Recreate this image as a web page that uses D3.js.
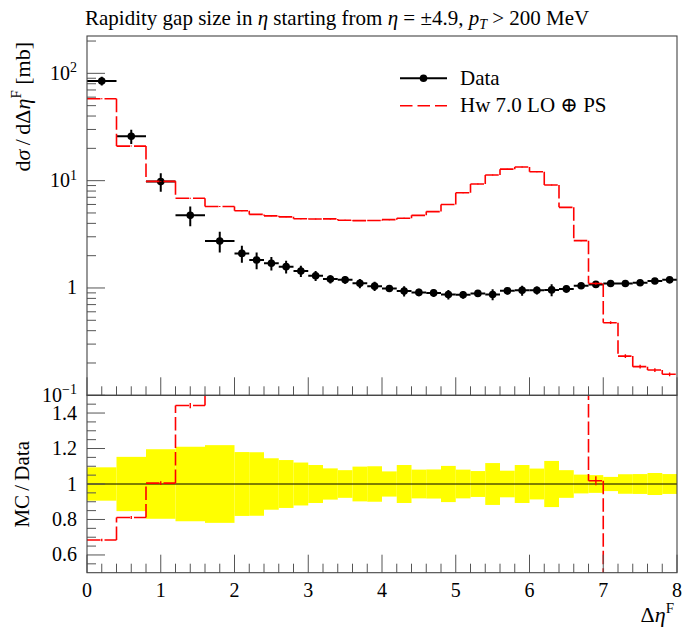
<!DOCTYPE html>
<html><head><meta charset="utf-8">
<script src="https://cdn.jsdelivr.net/npm/d3@7"></script>
<style>
body{margin:0;background:#fff}
svg{display:block}
text{font-family:"Liberation Serif","DejaVu Serif",serif;fill:#000}
</style>
</head><body>
<svg id="c" width="700" height="632"></svg>
<script>
// ---- data ----
const binEdges = [0,0.4,0.8,1.2,1.6,2.0,2.2,2.4,2.6,2.8,3.0,3.2,3.4,3.6,3.8,4.0,4.2,4.4,4.6,4.8,5.0,5.2,5.4,5.6,5.8,6.0,6.2,6.4,6.6,6.8,7.0,7.2,7.4,7.6,7.8,8.0];
const dataValues = [84.8,25.9,9.8,4.75,2.74,2.10,1.82,1.70,1.58,1.44,1.30,1.21,1.19,1.105,1.04,0.99,0.935,0.91,0.90,0.87,0.865,0.89,0.87,0.94,0.95,0.95,0.96,0.98,1.05,1.08,1.10,1.10,1.12,1.16,1.19];
const dataRelErr = [0.094,0.153,0.196,0.21,0.219,0.18,0.179,0.145,0.135,0.121,0.107,0.088,0.078,0.098,0.10,0.071,0.107,0.081,0.082,0.102,0.081,0.073,0.118,0.075,0.107,0.087,0.13,0.078,0.053,0.05,0.04,0.055,0.056,0.062,0.056];
const mcValues = [58,21.0,9.85,6.85,5.75,5.25,4.85,4.70,4.60,4.42,4.39,4.40,4.28,4.24,4.26,4.33,4.47,4.75,5.15,6.0,7.72,9.3,11.3,12.8,13.4,12.1,9.1,5.64,2.76,1.10,0.475,0.232,0.185,0.172,0.157];
const mcRelErr = [0.01,0.01,0.01,0.01,0.01,0.01,0.01,0.01,0.01,0.01,0.01,0.01,0.01,0.01,0.01,0.01,0.01,0.01,0.01,0.01,0.01,0.01,0.01,0.01,0.01,0.01,0.01,0.01,0.015,0.025,0.03,0.04,0.04,0.04,0.04];
const xTickValues = [0,1,2,3,4,5,6,7,8];
const mainDecades = [0.1,1,10,100];
const mainDecadeExp = ["−1","","1","2"];
const ratioTickValues = [0.6,0.8,1,1.2,1.4];
const ratioTickLabels = ["0.6","0.8","1","1.2","1.4"];
const seriesNames = ["Data","Hw 7.0 LO ⊕ PS"];

// ---- layout ----
const L = 87, R = 677, T = 36, MB = 395.3, RB = 572.7;
const svg = d3.select("#c");
const x = d3.scaleLinear().domain([0,8]).range([L,R]);
const y = d3.scaleLog().domain([0.1,222.8]).range([MB,T]);
const yr = d3.scaleLinear().domain([0.5,1.5]).range([RB,MB]);
const nb = dataValues.length;
const bins = d3.range(nb).map(i => ({lo:binEdges[i], hi:binEdges[i+1], c:(binEdges[i]+binEdges[i+1])/2,
  d:dataValues[i], de:dataValues[i]*dataRelErr[i], m:mcValues[i], me:mcValues[i]*mcRelErr[i], rel:dataRelErr[i]}));

const defs = svg.append("defs");
defs.append("clipPath").attr("id","cm").append("rect").attr("x",L).attr("y",T).attr("width",R-L).attr("height",MB-T);
defs.append("clipPath").attr("id","cr").append("rect").attr("x",L).attr("y",MB).attr("width",R-L).attr("height",RB-MB);

const RED = "#ff0000";
const DASH = "13.5,4";

// histogram as separate horizontal / vertical pieces (dash restarts per piece)
function stepSegments(vals){
  const segs = [];
  vals.forEach((v,i) => {
    if (i>0) segs.push({x1:binEdges[i], x2:binEdges[i], v1:vals[i-1], v2:v});
    segs.push({x1:binEdges[i], x2:binEdges[i+1], v1:v, v2:v});
  });
  return segs;
}
function drawStep(g, vals, ys){
  g.selectAll(null).data(stepSegments(vals)).enter().append("line")
    .attr("x1", s=>x(s.x1)).attr("x2", s=>x(s.x2))
    .attr("y1", s=>ys(s.v1)).attr("y2", s=>ys(s.v2))
    .attr("stroke",RED).attr("stroke-width",1.6).attr("stroke-dasharray",DASH);
}

// ---- ratio band ----
const gr = svg.append("g").attr("clip-path","url(#cr)");
gr.selectAll("rect.band").data(bins).enter().append("rect")
  .attr("x", b => x(b.lo)).attr("width", b => x(b.hi)-x(b.lo))
  .attr("y", b => yr(1+b.rel)).attr("height", b => yr(1-b.rel)-yr(1+b.rel))
  .attr("fill","#ffff00");
gr.append("line").attr("x1",L).attr("x2",R).attr("y1",yr(1)).attr("y2",yr(1)).attr("stroke","#000").attr("stroke-width",1);
const ratioVals = bins.map(b => b.m/b.d);
const yrc = v => yr(Math.max(0.45, Math.min(1.55, v)));
drawStep(gr, ratioVals, yrc);
gr.selectAll("line.rerr").data(bins).enter().append("line")
  .attr("x1", b=>x(b.c)).attr("x2", b=>x(b.c))
  .attr("y1", b=>yr((b.m+b.me)/b.d)).attr("y2", b=>yr((b.m-b.me)/b.d))
  .attr("stroke",RED).attr("stroke-width",1.4);

// ---- main panel ----
const gm = svg.append("g").attr("clip-path","url(#cm)");
gm.selectAll("line.dh").data(bins).enter().append("line")
  .attr("x1", b=>x(b.lo)).attr("x2", b=>x(b.hi)).attr("y1", b=>y(b.d)).attr("y2", b=>y(b.d))
  .attr("stroke","#000").attr("stroke-width",2);
gm.selectAll("line.dv").data(bins).enter().append("line")
  .attr("x1", b=>x(b.c)).attr("x2", b=>x(b.c)).attr("y1", b=>y(b.d+b.de)).attr("y2", b=>y(b.d-b.de))
  .attr("stroke","#000").attr("stroke-width",2);
gm.selectAll("circle").data(bins).enter().append("circle")
  .attr("cx", b=>x(b.c)).attr("cy", b=>y(b.d)).attr("r",3.8).attr("fill","#000");
drawStep(gm, mcValues, y);
gm.selectAll("line.merr").data(bins).enter().append("line")
  .attr("x1", b=>x(b.c)).attr("x2", b=>x(b.c)).attr("y1", b=>y(b.m+b.me)).attr("y2", b=>y(b.m-b.me))
  .attr("stroke",RED).attr("stroke-width",1.4);

// ---- frames & ticks ----
const TC = "#555";
const ax = svg.append("g").attr("stroke",TC).attr("stroke-width",1);
const minorX = d3.range(0,41).map(i=>i*0.2).filter(v => Math.abs(v-Math.round(v))>1e-6);
[MB, RB].forEach(yb => {
  ax.selectAll(null).data(xTickValues).enter().append("line")
    .attr("x1",d=>x(d)).attr("x2",d=>x(d)).attr("y1",yb).attr("y2",yb-18);
  ax.selectAll(null).data(minorX).enter().append("line")
    .attr("x1",d=>x(d)).attr("x2",d=>x(d)).attr("y1",yb).attr("y2",yb-9);
});
ax.selectAll(null).data(mainDecades).enter().append("line")
  .attr("x1",L).attr("x2",L+18).attr("y1",d=>y(d)).attr("y2",d=>y(d));
const minorY = [];
mainDecades.forEach(d => { for (let k=2;k<=9;k++){ const v=k*d; if (v<=y.domain()[1]) minorY.push(v);} });
ax.selectAll(null).data(minorY).enter().append("line")
  .attr("x1",L).attr("x2",L+9).attr("y1",d=>y(d)).attr("y2",d=>y(d));
ax.selectAll(null).data(ratioTickValues).enter().append("line")
  .attr("x1",L).attr("x2",L+18).attr("y1",d=>yr(d)).attr("y2",d=>yr(d));
const minorR = d3.range(0,21).map(i=>0.5+i*0.05).filter(v => v>0.5 && v<1.5 && Math.abs(v*5-Math.round(v*5))>1e-6);
ax.selectAll(null).data(minorR).enter().append("line")
  .attr("x1",L).attr("x2",L+9).attr("y1",d=>yr(d)).attr("y2",d=>yr(d));
svg.append("rect").attr("x",L).attr("y",T).attr("width",R-L).attr("height",MB-T).attr("fill","none").attr("stroke","#444").attr("stroke-width",1.1);
svg.append("rect").attr("x",L).attr("y",MB).attr("width",R-L).attr("height",RB-MB).attr("fill","none").attr("stroke","#444").attr("stroke-width",1.1);

// ---- tick labels ----
const FS = 20;
svg.selectAll(null).data(xTickValues).enter().append("text")
  .attr("x",d=>x(d)).attr("y",597).attr("text-anchor","middle").attr("font-size",FS).text(d=>d);
const mainLab = svg.selectAll(null).data(mainDecades).enter().append("text")
  .attr("x",77).attr("y",d=>y(d)+6.5).attr("text-anchor","end").attr("font-size",FS);
mainLab.each(function(d,i){
  const t = d3.select(this);
  if (mainDecadeExp[i]==="") { t.text("1"); return; }
  t.append("tspan").text("10");
  t.append("tspan").attr("dy",-7.5).attr("font-size",14).text(mainDecadeExp[i]);
});
svg.selectAll(null).data(ratioTickValues).enter().append("text")
  .attr("x",77).attr("y",d=>yr(d)+6.5).attr("text-anchor","end").attr("font-size",FS)
  .text((d,i)=>ratioTickLabels[i]);

// ---- title ----
const title = svg.append("text").attr("x",85).attr("y",25).attr("font-size",21);
title.append("tspan").text("Rapidity gap size in ");
title.append("tspan").attr("font-style","italic").text("η");
title.append("tspan").text(" starting from ");
title.append("tspan").attr("font-style","italic").text("η");
title.append("tspan").text(" = ±4.9, ");
title.append("tspan").attr("font-style","italic").text("p");
title.append("tspan").attr("dy",4).attr("font-size",14).attr("font-style","italic").text("T");
title.append("tspan").attr("dy",-4).text(" > 200 MeV");

// ---- axis labels ----
const yl = svg.append("text").attr("transform","translate(30,42) rotate(-90)").attr("text-anchor","end").attr("font-size",22);
yl.append("tspan").text("d");
yl.append("tspan").attr("font-style","italic").text("σ");
yl.append("tspan").text("\u2009/\u2009dΔ");
yl.append("tspan").attr("font-style","italic").text("η");
yl.append("tspan").attr("dy",-9).attr("font-size",15).text("F");
yl.append("tspan").attr("dy",9).text(" [mb]");

svg.append("text").attr("transform","translate(29,441) rotate(-90)").attr("text-anchor","end").attr("font-size",21).text("MC\u2009/\u2009Data");

const xl = svg.append("text").attr("x",674).attr("y",621.5).attr("text-anchor","end").attr("font-size",22);
xl.append("tspan").text("Δ");
xl.append("tspan").attr("font-style","italic").text("η");
xl.append("tspan").attr("dy",-9).attr("font-size",15).text("F");

// ---- legend ----
const lg = svg.append("g");
lg.append("line").attr("x1",400).attr("x2",447).attr("y1",78.3).attr("y2",78.3).attr("stroke","#000").attr("stroke-width",2);
lg.append("circle").attr("cx",423.5).attr("cy",78.3).attr("r",3.8).attr("fill","#000");
lg.append("text").attr("x",460).attr("y",84.5).attr("font-size",21).text(seriesNames[0]);
lg.append("line").attr("x1",400).attr("x2",447).attr("y1",105.7).attr("y2",105.7).attr("stroke",RED).attr("stroke-width",1.6).attr("stroke-dasharray","12.5,5");
lg.append("text").attr("x",460).attr("y",111.5).attr("font-size",21).text(seriesNames[1]);
</script>
</body></html>
